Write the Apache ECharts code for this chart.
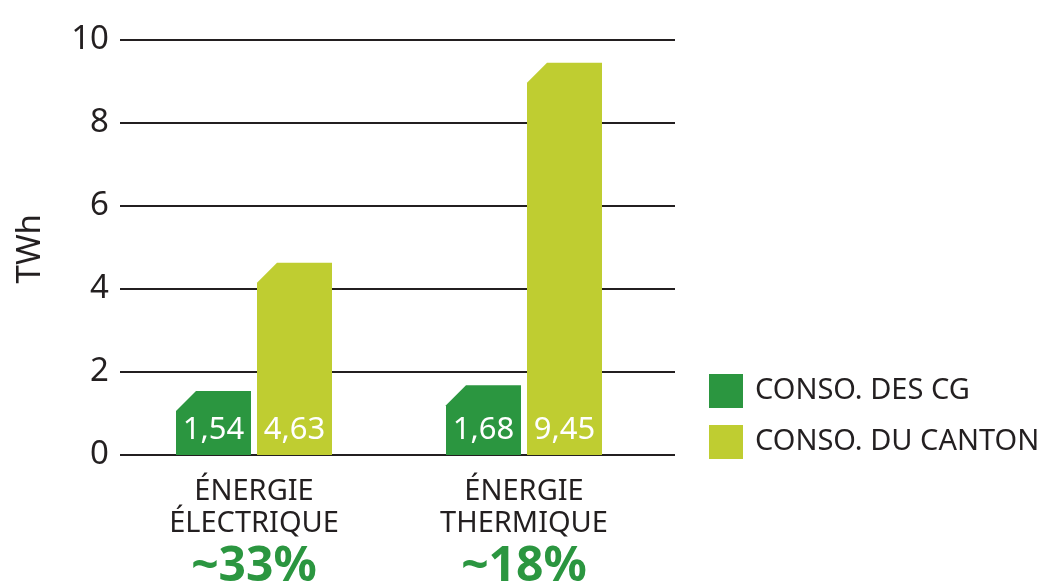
<!DOCTYPE html>
<html>
<head>
<meta charset="utf-8">
<script src="https://cdn.jsdelivr.net/npm/echarts@6/dist/echarts.min.js"></script>
<style>
  html, body { margin: 0; padding: 0; background: #fff; }
  #chart { width: 1061px; height: 585px; }
</style>
</head>
<body>
<div id="chart"></div>
<script>
// Energy consumption (TWh): CG share vs. whole canton
const categories = ['ÉNERGIE\nÉLECTRIQUE', 'ÉNERGIE\nTHERMIQUE'];
const shareLabels = ['~33%', '~18%'];
const seriesNames = ['CONSO. DES CG', 'CONSO. DU CANTON'];
const cgValues = [1.54, 1.68];
const cantonValues = [4.63, 9.45];

const DARK = '#2b9640';
const LIGHT = '#bfcd31';
const INK = '#231f20';
const FONT = '"Noto Sans", Lato, sans-serif';

const BAR_W = 75;   // width of each bar
const HALF_GAP = 3; // half the gap between the two bars of a group
const CHAMFER = 20; // cut on the top-left corner

function fmt(v) { return v.toFixed(2).replace('.', ','); }

// side: -1 = left bar of the pair, +1 = right bar
function makeRenderer(side, color) {
  return function (params, api) {
    const idx = api.value(0);
    const val = api.value(1);
    const top = api.coord([idx, val]);
    const base = api.coord([idx, 0]);
    const cx = top[0];
    const x0 = side < 0 ? cx - HALF_GAP - BAR_W : cx + HALF_GAP;
    const x1 = x0 + BAR_W;
    const yTop = top[1];
    const yBase = base[1];
    const ch = Math.min(CHAMFER, (yBase - yTop) / 2);
    return {
      type: 'group',
      children: [
        {
          type: 'polygon',
          shape: {
            points: [
              [x0, yBase], [x0, yTop + ch], [x0 + ch, yTop],
              [x1, yTop], [x1, yBase]
            ]
          },
          style: { fill: color }
        },
        {
          type: 'text',
          style: {
            text: fmt(val),
            x: (x0 + x1) / 2,
            y: yBase - 25,
            align: 'center',
            verticalAlign: 'middle',
            fill: '#ffffff',
            font: '31px ' + FONT
          },
          z2: 10
        }
      ]
    };
  };
}

const chart = echarts.init(document.getElementById('chart'), null, { renderer: 'canvas' });

chart.setOption({
  animation: false,
  backgroundColor: '#ffffff',
  textStyle: { fontFamily: FONT },
  grid: [
    // horizontal rules + y labels
    { left: 120, right: 386, top: 40, bottom: 130, outerBoundsMode: 'none', containLabel: false },
    // bars + category labels
    { left: 119, right: 402, top: 40, bottom: 130, outerBoundsMode: 'none', containLabel: false }
  ],
  graphic: [
    {
      type: 'text',
      left: 14,
      top: 214,
      rotation: Math.PI / 2,
      style: { text: 'TWh', font: '33px ' + FONT, fill: INK }
    }
  ],
  legend: {
    orient: 'vertical',
    left: 704,
    top: 369,
    itemWidth: 34,
    itemHeight: 34,
    itemGap: 17,
    icon: 'rect',
    data: seriesNames,
    textStyle: {
      fontFamily: FONT,
      fontSize: 29,
      color: INK,
      padding: [0, 0, 0, 7]
    }
  },
  xAxis: [
    { gridIndex: 0, type: 'category', data: categories, show: false },
    {
      gridIndex: 1,
      type: 'category',
      data: categories,
      axisLine: { show: false },
      axisTick: { show: false },
      axisLabel: {
        margin: 21,
        interval: 0,
        formatter: function (v, i) {
          const lines = v.split('\n').map(s => '{n|' + s + '}');
          return lines.join('\n') + '\n{p|' + shareLabels[i] + '}';
        },
        rich: {
          n: { fontFamily: FONT, fontSize: 29, lineHeight: 32, color: INK },
          p: { fontFamily: FONT, fontSize: 48, fontWeight: 'bold', lineHeight: 54, color: DARK }
        }
      }
    }
  ],
  yAxis: [
    {
      gridIndex: 0,
      type: 'value',
      min: 0,
      max: 10,
      interval: 2,
      axisLine: { show: false },
      axisTick: { show: false },
      axisLabel: { margin: 11, fontFamily: FONT, fontSize: 33, color: INK },
      splitLine: { show: true, lineStyle: { color: INK, width: 2 } }
    },
    { gridIndex: 1, type: 'value', min: 0, max: 10, interval: 2, show: false, splitLine: { show: false } }
  ],
  series: [
    {
      name: seriesNames[0],
      type: 'custom',
      xAxisIndex: 1,
      yAxisIndex: 1,
      itemStyle: { color: DARK },
      renderItem: makeRenderer(-1, DARK),
      encode: { x: 0, y: 1 },
      data: cgValues.map((v, i) => [i, v])
    },
    {
      name: seriesNames[1],
      type: 'custom',
      xAxisIndex: 1,
      yAxisIndex: 1,
      itemStyle: { color: LIGHT },
      renderItem: makeRenderer(1, LIGHT),
      encode: { x: 0, y: 1 },
      data: cantonValues.map((v, i) => [i, v])
    }
  ]
});
</script>
</body>
</html>
